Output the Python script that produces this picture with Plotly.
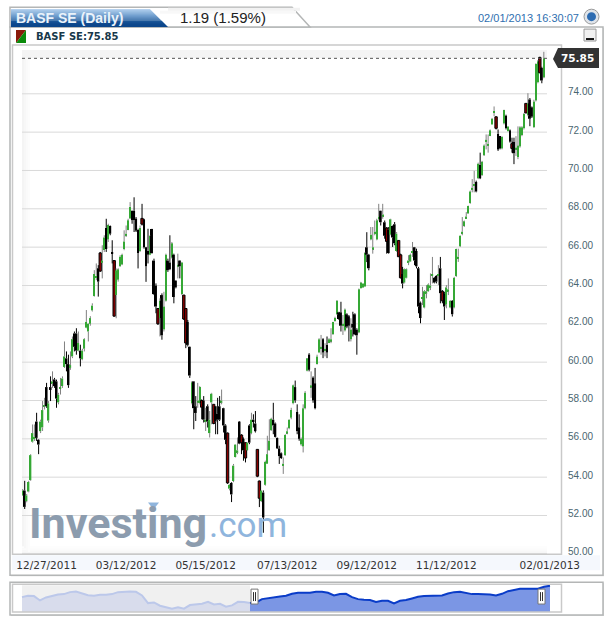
import plotly.graph_objects as go

# ---- main chart data (prices) ----
highs = [
53.38,53.81,53.12,53.81,55.20,56.75,56.75,57.36,55.98,57.00,57.97,58.14,58.92,57.97,59.26,59.52,59.18,59.09,58.40,59.18,
59.26,61.08,60.56,60.39,60.56,61.34,61.60,61.77,61.60,60.91,60.70,61.25,62.72,62.03,62.40,63.07,64.80,65.15,65.06,65.75,
66.10,66.62,67.48,67.22,67.13,66.36,65.32,64.89,64.90,65.58,65.66,66.88,67.13,67.48,68.35,67.91,68.60,67.57,66.96,67.13,
68.26,67.48,66.01,66.96,66.62,66.96,65.40,64.11,62.81,63.33,63.59,63.67,65.66,65.40,66.62,66.27,65.66,64.28,65.66,65.32,
65.23,63.50,62.81,62.20,60.82,
59.00,59.00,58.23,58.92,58.75,58.06,58.23,57.62,57.80,57.45,58.40,57.80,57.71,58.14,58.23,58.57,57.62,56.76,56.33,53.65,
53.74,54.69,55.72,56.07,56.93,56.24,56.07,55.81,55.81,56.76,57.36,57.28,57.45,55.46,53.82,53.31,53.31,54.86,56.16,57.02,
57.10,57.88,56.85,56.07,55.64,55.29,55.03,56.24,56.59,57.02,57.62,58.83,59.04,57.80,57.28,56.07,57.80,58.49,60.21,60.47,
59.52,59.26,59.70,60.39,61.25,61.42,61.25,60.99,61.34,61.25,61.77,62.11,62.37,63.24,62.63,63.15,62.46,62.80,62.55,62.46,
62.29,62.63,62.55,61.77,63.84,64.19,64.10,65.74,66.78,65.65,
67.05,67.05,67.39,67.48,68.26,67.91,68.26,67.39,67.05,67.05,67.48,67.13,67.31,66.79,66.36,65.66,64.97,64.89,64.89,65.58,
65.66,66.27,66.01,65.92,64.97,63.16,63.93,63.76,64.02,64.11,64.63,65.49,64.45,64.54,65.06,65.49,63.76,63.67,64.02,64.37,
63.24,63.24,64.45,65.92,65.92,66.62,67.57,67.39,67.83,68.17,68.95,
69.55,69.98,69.47,70.41,70.93,70.50,71.36,71.88,71.88,72.14,72.74,73.34,72.83,72.14,71.79,71.79,73.17,72.91,72.31,72.14,
71.71,71.71,71.79,72.30,72.31,72.31,73.00,73.52,74.03,73.78,73.34,73.69,75.59,75.76,75.93,75.41,76.19,
]
lows = [
53.03,52.34,52.69,53.21,53.81,55.80,55.89,55.89,55.20,56.30,56.41,57.53,57.62,56.84,57.97,58.66,58.66,57.62,57.80,58.31,
58.66,59.70,59.52,58.66,59.60,60.21,60.56,60.39,60.56,59.78,60.10,60.56,61.77,61.08,61.90,62.64,63.42,64.28,63.42,64.71,
64.37,65.75,65.75,66.27,66.62,65.15,62.38,62.29,64.20,64.97,65.06,65.84,66.53,66.88,67.48,67.22,66.79,66.79,64.89,65.75,
67.13,65.92,64.19,65.15,65.58,65.66,63.50,62.55,61.94,61.34,61.17,61.60,63.16,64.71,64.80,65.40,63.07,63.85,64.37,64.37,
63.50,62.20,60.73,60.82,59.18,
57.80,56.50,56.93,57.62,57.80,57.02,56.85,56.41,56.59,56.07,56.76,56.76,56.24,56.24,56.93,57.80,56.33,55.72,53.65,53.31,
52.70,53.74,55.03,55.20,55.72,55.20,54.86,54.77,55.38,55.72,56.24,56.59,56.33,54.00,52.44,52.70,51.10,53.56,54.69,55.38,
56.41,56.24,56.07,55.47,54.69,54.95,54.17,55.12,56.24,56.50,57.02,57.80,57.88,56.24,55.90,55.64,55.29,57.54,59.52,59.52,
58.14,57.88,57.54,59.87,60.47,60.39,60.21,60.30,60.21,60.99,60.99,61.42,62.11,62.46,62.20,61.60,61.42,61.60,61.77,61.08,
61.08,61.34,61.42,60.39,61.51,63.84,63.88,63.93,65.22,64.79,
66.36,65.66,66.62,66.36,67.39,67.13,67.48,66.44,65.66,65.66,66.62,66.01,66.10,65.75,65.49,64.37,63.85,64.11,64.37,65.06,
65.23,65.49,65.06,64.89,62.55,62.03,62.98,62.81,63.33,63.67,63.76,64.11,64.11,64.11,64.02,63.07,63.07,62.20,62.81,63.50,
62.81,62.38,62.81,64.45,65.23,66.01,66.62,67.05,67.48,67.74,68.26,
68.86,68.86,68.86,69.55,69.55,69.72,70.76,71.10,70.93,71.79,72.40,72.83,72.14,71.02,71.10,71.10,72.40,72.14,72.05,71.45,
70.93,70.33,70.76,70.59,71.19,71.79,72.14,73.00,72.83,72.31,72.74,72.22,73.60,74.55,75.07,74.55,74.81,
]
opens = [
53.05,53.30,52.75,53.25,53.85,55.85,56.00,56.90,55.95,56.40,56.60,57.70,58.70,56.95,58.70,58.90,59.10,59.00,57.90,58.60,
58.75,59.75,60.20,59.90,59.70,60.30,61.50,61.50,60.60,60.60,60.15,60.70,61.80,61.60,62.00,62.70,63.45,64.40,64.90,65.70,
65.20,65.85,67.00,66.40,67.10,65.70,65.30,63.50,64.30,65.00,65.10,65.90,66.60,66.90,67.50,67.90,67.90,67.50,66.90,65.80,
67.50,67.45,66.00,65.80,65.60,66.95,65.30,64.00,62.80,62.30,63.50,61.70,63.20,65.30,65.20,65.45,65.60,64.25,65.00,65.30,
63.55,63.50,62.80,62.10,60.80,
57.85,59.00,57.70,57.90,57.85,58.00,58.00,56.90,57.70,56.30,57.90,57.80,57.70,57.30,57.70,57.90,57.60,56.70,56.30,53.40,
53.70,53.80,55.05,55.30,56.90,56.20,56.00,55.80,55.40,56.70,56.30,57.00,56.80,55.45,53.80,52.75,53.20,53.60,54.70,55.40,
56.45,57.00,56.80,56.05,55.50,55.25,54.60,55.15,56.30,56.55,57.10,57.85,58.70,57.40,56.60,55.70,55.60,57.60,59.55,60.40,
58.70,59.20,58.90,59.90,60.50,60.70,61.20,60.60,60.90,61.00,61.10,61.45,62.15,62.50,62.60,62.60,61.90,61.65,62.50,62.40,
61.20,62.00,62.50,61.70,61.55,63.85,63.90,63.95,66.00,65.60,
66.40,65.90,66.70,66.40,67.45,67.90,67.60,67.30,67.00,66.90,66.65,67.10,67.20,65.80,66.35,65.60,64.60,64.15,64.40,65.20,
65.25,65.70,66.00,65.80,64.90,63.10,63.30,62.85,63.60,63.70,63.90,64.50,64.40,64.50,64.50,64.90,63.70,63.60,63.00,63.70,
62.85,63.20,62.85,64.50,65.40,66.05,66.70,67.10,67.50,67.75,68.30,
69.00,69.20,69.40,69.60,70.30,69.75,70.80,71.50,71.30,71.80,72.40,73.00,72.80,71.90,71.80,71.15,72.45,72.85,72.05,72.10,
71.40,71.50,71.10,70.70,71.25,71.85,72.20,73.50,72.90,73.70,73.30,72.25,73.65,74.60,75.90,75.35,74.85,
]
closes = [
53.30,52.45,53.05,53.75,55.15,56.30,56.10,56.05,55.70,56.90,57.50,57.75,57.70,57.85,58.55,59.00,58.75,58.10,58.30,58.70,
59.15,60.30,59.90,58.80,59.85,61.20,60.80,60.60,61.00,60.20,60.60,61.20,62.10,62.00,62.30,62.95,64.60,64.50,64.20,64.75,
65.30,66.50,65.90,67.15,66.70,65.65,62.40,64.80,64.85,65.50,65.60,66.30,66.70,67.40,68.10,67.40,67.40,66.85,65.70,67.00,
67.20,66.00,65.00,65.60,66.60,65.70,63.55,62.90,62.00,63.20,61.40,62.90,65.60,64.80,64.85,66.20,63.40,63.90,65.10,65.00,
65.20,62.25,61.00,60.90,59.30,
58.95,57.60,57.35,58.00,58.70,57.65,57.00,57.00,56.90,57.00,58.35,56.80,56.90,57.00,57.00,58.00,56.70,55.95,53.70,53.60,
53.10,54.60,55.70,55.40,55.75,55.80,55.40,55.00,55.80,55.80,57.00,56.90,56.40,54.05,52.90,53.30,51.90,54.80,55.20,55.90,
57.05,56.70,56.10,55.50,55.10,55.00,54.70,56.20,56.40,57.00,57.50,58.80,58.00,56.40,56.00,56.00,57.60,58.40,60.20,59.60,
58.80,58.00,57.60,60.30,61.20,60.80,60.50,60.70,60.50,61.20,61.20,62.10,62.30,63.20,62.25,61.90,62.00,62.75,61.85,61.90,
61.70,61.80,61.45,61.40,63.80,64.15,64.10,65.70,65.60,64.90,
66.65,66.00,66.80,67.40,67.60,67.30,67.70,66.60,66.30,65.70,67.45,66.50,66.20,66.70,65.50,64.40,64.10,64.85,64.85,65.30,
65.60,65.80,65.30,65.00,62.90,62.30,63.40,63.70,63.70,64.05,64.00,64.60,64.15,64.20,64.60,63.60,63.20,62.90,63.90,63.80,
63.20,62.50,64.40,65.90,65.50,66.60,66.80,67.35,67.60,68.15,68.90,
69.10,69.30,68.90,70.35,69.60,70.45,71.30,71.60,71.40,72.10,72.70,73.10,72.20,71.10,71.15,71.75,73.15,72.20,72.30,71.50,
71.15,70.90,71.20,71.30,72.25,72.25,72.95,73.00,73.50,72.70,72.80,73.60,75.55,75.70,75.10,74.70,75.85,
]
red_sessions = [39, 46, 60, 68, 81, 82, 90, 96, 103, 110, 112, 118, 119, 183, 189, 190, 211, 238, 246, 253, 260]

tick_sessions = [12, 52, 92, 133, 173, 213, 265]
tick_dates = ["12/27/2011", "03/12/2012", "05/15/2012", "07/13/2012", "09/12/2012", "11/12/2012", "02/01/2013"]
price_ticks = [50, 52, 54, 56, 58, 60, 62, 64, 66, 68, 70, 72, 74]
last_price = 75.85

# ---- navigator data ----
nav_history = [60.5,62.3,61.9,56.0,60.1,62.3,64.1,64.6,67.3,68.2,65.9,63.2,62.3,63.7,63.7,64.6,67.3,68.2,68.2,67.7,
               62.8,52.4,53.3,48.8,47.0,44.8,46.6,44.8,49.7,50.2,51.5,54.2,50.6,51.5,47.5,49.3,54.2,53.8,52.4]
nav_selected = [52.4,53.3,57.8,59.2,60.5,61.4,62.3,65.0,66.4,65.9,66.4,67.7,67.7,66.4,62.8,64.6,65.0,60.5,57.8,56.9,
                56.5,53.8,55.6,55.6,52.0,55.6,56.5,58.7,61.0,61.9,62.3,61.9,62.8,65.5,67.3,67.7,65.9,64.6,64.6,64.6,
                64.1,62.8,65.0,68.6,70.0,71.8,71.8,71.8,71.8,74.5,75.85]

# ---- sizes ----
W, H = 613, 627
LEFT, RIGHT, TOP, BOTTOM = 12, 562, 45, 615
MAIN_BOTTOM, NAV_TOP = 557, 587
def xp(px): return (px - LEFT) / (RIGHT - LEFT)
def yp(py): return (BOTTOM - py) / (BOTTOM - TOP)

n = len(closes)
sessions = list(range(n))
assert len(highs) == n and len(lows) == n and len(opens) == n, (len(highs), len(lows), len(opens), n)
def style(i):
    if closes[i] >= opens[i]:
        return "g"
    return "r" if i in red_sessions else "k"
styles = [style(i) for i in sessions]

def wick_xy(selector):
    xs, ys = [], []
    for i in sessions:
        if selector(styles[i]):
            top, bot = max(opens[i], closes[i]), min(opens[i], closes[i])
            xs += [i, i, None, i, i, None]
            ys += [highs[i], top, None, bot, lows[i], None]
    return xs, ys

GREEN, RED, BLACK, GREY = "#35a835", "#8a0000", "#000000", "#808080"
fig = go.Figure()
gx, gy = wick_xy(lambda s: s == "g")
kx, ky = wick_xy(lambda s: s != "g")
fig.add_trace(go.Scatter(x=gx, y=gy, mode="lines", line=dict(color=GREY, width=1), hoverinfo="skip", xaxis="x", yaxis="y", showlegend=False))
fig.add_trace(go.Scatter(x=kx, y=ky, mode="lines", line=dict(color=BLACK, width=1), hoverinfo="skip", xaxis="x", yaxis="y", showlegend=False))
fig.add_trace(go.Bar(
    x=sessions,
    base=[min(o, c) for o, c in zip(opens, closes)],
    y=[abs(o - c) for o, c in zip(opens, closes)],
    width=[{"g": 0.7, "k": 1.0, "r": 1.2}[s] for s in styles],
    marker=dict(
        color=[{"g": GREEN, "k": BLACK, "r": RED}[s] for s in styles],
        line=dict(color=[{"g": GREEN, "k": BLACK, "r": BLACK}[s] for s in styles],
                  width=[0 if s == "g" else (0 if s == "k" else 1) for s in styles]),
    ),
    hoverinfo="skip", xaxis="x", yaxis="y", showlegend=False,
))

# navigator
h_n = len(nav_history)
fig.add_trace(go.Scatter(x=list(range(h_n)), y=nav_history, mode="lines", fill="tozeroy",
                         fillcolor="#d8dcec", line=dict(color="#bcc8ea", width=2),
                         hoverinfo="skip", xaxis="x2", yaxis="y2", showlegend=False))
fig.add_trace(go.Scatter(x=list(range(h_n - 1, h_n - 1 + len(nav_selected))), y=nav_selected, mode="lines", fill="tozeroy",
                         fillcolor="#7b96e4", line=dict(color="#0a3cc8", width=2),
                         hoverinfo="skip", xaxis="x2", yaxis="y2", showlegend=False))

shapes = []
def rect(x0, y0, x1, y1, fill=None, line=None, lw=1, layer="below"):
    shapes.append(dict(type="rect", xref="paper", yref="paper", x0=xp(x0), x1=xp(x1), y0=yp(y0), y1=yp(y1),
                       fillcolor=fill or "rgba(0,0,0,0)", line=dict(color=line or "rgba(0,0,0,0)", width=lw if line else 0), layer=layer))
def hline(x0, x1, y, color, lw=1, dash="solid", layer="below"):
    shapes.append(dict(type="line", xref="paper", yref="paper", x0=xp(x0), x1=xp(x1), y0=yp(y), y1=yp(y),
                       line=dict(color=color, width=lw, dash=dash), layer=layer))
def poly(points, fill=None, line=None, lw=1, layer="below", close=True):
    path = "M " + " L ".join(f"{xp(a):.5f} {yp(b):.5f}" for a, b in points) + (" Z" if close else "")
    shapes.append(dict(type="path", xref="paper", yref="paper", path=path,
                       fillcolor=fill or "rgba(0,0,0,0)", line=dict(color=line or "rgba(0,0,0,0)", width=lw if line else 0), layer=layer))

# outer panels with shadow
rect(11, 28, 604, 579, fill="#d9d9d9")
rect(10, 27, 603, 578, fill="#ffffff", line="#b4b6b6", lw=1.5)
rect(11, 586, 604, 619, fill="#d9d9d9")
rect(10, 585, 603, 618, fill="#ffffff", line="#b4b6b6", lw=1.5)
# tab
poly([(10, 27), (10, 7), (292, 7), (310, 27)], fill="#ffffff", line="#b4b6b6", lw=1.5)
hline(168, 300, 9, "#f2f2f2", 3)
hline(160, 296, 12, "#f8f8f8", 3)
tab_rows = ["#9cc2e8", "#8fb9e2", "#84b0dc", "#78a7d6", "#6c9ed0", "#5f94ca", "#528ac4", "#4780bc", "#3b76b4",
            "#306cab", "#2763a3", "#1f5b9c", "#185496", "#134e92", "#0f4a8e", "#0c478c", "#0b468b", "#0b458a"]
for r, c in enumerate(tab_rows):
    y0 = 9 + r
    poly([(11, y0), (150 + r, y0), (151 + r, y0 + 1), (11, y0 + 1)], fill=c)
# date strip and inner frame
rect(12, 558, 600, 573, fill="#f5f8fd")
for k, c in enumerate(["#f4f4f4", "#f7f7f7", "#fafafa", "#fcfcfc"]):
    rect(22 + 2 * k, 50, 24 + 2 * k, 557, fill=c)
    rect(22, 549 + 2 * k, 547, 551 + 2 * k, fill=["#fdfdfd", "#fbfbfb", "#f8f8f8", "#f5f5f5"][k])
rect(22, 50, 547, 58, fill="#f4f4f4")
for t in price_ticks:
    shapes.append(dict(type="line", xref="paper", yref="y", x0=xp(22), x1=xp(547), y0=t, y1=t,
                       line=dict(color="#d9d9d9", width=1), layer="below"))
rect(12.5, 45, 561.5, 557, line="#c9c9c9", lw=1.5)
shapes.append(dict(type="line", xref="paper", yref="y", x0=xp(22), x1=xp(547), y0=last_price, y1=last_price,
                   line=dict(color="#555555", width=1, dash="dot"), layer="above"))
# legend swatch
poly([(16, 30), (26, 30), (16, 43)], fill="#8a1a0a")
poly([(26, 30), (26, 43), (16, 43)], fill="#0a8a0a")
# price tag
poly([(553, 59), (558, 48), (599, 48), (599, 68), (558, 68)], fill="#333333")
# minimise button
rect(584, 29, 596, 41, fill="#f0f0f0", line="#9a9a9a")
hline(586, 594, 39, "#111111", 2)
# globe
shapes.append(dict(type="circle", xref="paper", yref="paper", x0=xp(584), x1=xp(599), y0=yp(9), y1=yp(24), fillcolor="#dfe4ea", line=dict(color="#9a9a9a", width=1)))
shapes.append(dict(type="circle", xref="paper", yref="paper", x0=xp(587), x1=xp(596), y0=yp(12), y1=yp(21), fillcolor="#2d6cb2", line=dict(width=0)))
# navigator frame and handles
rect(22, 588, 250, 614, fill="#f0f0f0")
rect(12.5, 587, 561.5, 615, line="#c9c9c9", lw=1.5, layer="above")
for hx in (254.5, 541.5):
    rect(hx - 3.5, 592, hx + 3.5, 607, fill="#ffffff", line="#777777", layer="above")
    for dx in (-1, 1):
        shapes.append(dict(type="line", xref="paper", yref="paper", x0=xp(hx + dx), x1=xp(hx + dx), y0=yp(595), y1=yp(604),
                           line=dict(color="#333333", width=1), layer="above"))
# logo triangle
poly([(148, 505), (159, 505), (153.5, 512)], fill="#8fb5dd", layer="below")

def txt(x, y, s, size, color, family="Liberation Sans", bold=False, anchor="left"):
    return dict(xref="paper", yref="paper", x=xp(x), y=yp(y), text=f"<b>{s}</b>" if bold else s, showarrow=False,
                xanchor=anchor, yanchor="middle", font=dict(size=size, color=color, family=family))

annotations = [
    txt(14, 18, "BASF SE (Daily)", 14, "#eaf3fb", bold=True),
    txt(178, 17, "1.19 (1.59%)", 15, "#222222"),
    txt(581, 18, "02/01/2013 16:30:07", 11, "#2f6fb0", anchor="right"),
    txt(34, 36, "BASF SE:75.85", 10, "#17384a", family="DejaVu Sans", bold=True),
    txt(559, 58.5, "75.85", 10.5, "#ffffff", family="DejaVu Sans", bold=True),
    txt(27, 526, "Investing", 43, "#8c9cae", family="Roboto", bold=True),
    txt(207, 528, ".com", 35, "#8fb5dd", family="Roboto"),
]

k = 1.989
x0_session = -(22.7 - LEFT) / k
x1_session = x0_session + (RIGHT - LEFT) / k
px_per_unit = 19.27
y_top = 52 + (518 - TOP) / px_per_unit
y_bot = 52 + (518 - MAIN_BOTTOM) / px_per_unit
nav_scale = 0.74
nav_top = 75.85 + (588.7 - NAV_TOP) / nav_scale
nav_bot = 75.85 - (BOTTOM - 588.7) / nav_scale

fig.update_layout(
    width=W, height=H, autosize=False, margin=dict(l=LEFT, r=W - RIGHT, t=TOP, b=H - BOTTOM),
    paper_bgcolor="#ffffff", plot_bgcolor="rgba(0,0,0,0)", barmode="overlay", showlegend=False,
    shapes=shapes, annotations=annotations,
    xaxis=dict(domain=[0, 1], range=[x0_session, x1_session], anchor="y", tickmode="array", tickvals=tick_sessions, ticktext=tick_dates,
               showgrid=False, zeroline=False, showline=False, ticks="outside", ticklen=1, tickcolor="rgba(0,0,0,0)",
               tickfont=dict(family="DejaVu Sans", size=10.5, color="#333333")),
    yaxis=dict(domain=[yp(MAIN_BOTTOM), 1], range=[y_bot, y_top], anchor="x", side="right", tickmode="array", tickvals=price_ticks,
               ticktext=[f"{v:.2f}" for v in price_ticks], showgrid=False, zeroline=False, showline=False,
               ticks="outside", ticklen=3, tickcolor="rgba(0,0,0,0)", ticklabelshift=-2,
               tickfont=dict(family="Liberation Sans", size=10, color="#4a6670")),
    xaxis2=dict(domain=[0, 1], range=[(LEFT - 22) / 6, (RIGHT - 22) / 6], anchor="y2", showticklabels=False, showgrid=False, zeroline=False, ticks=""),
    yaxis2=dict(domain=[0, yp(NAV_TOP)], range=[nav_bot, nav_top], anchor="x2", showticklabels=False, showgrid=False, zeroline=False, ticks=""),
)
fig.write_html("out.html", config=dict(displayModeBar=False), post_script="document.body.style.margin='0';")
